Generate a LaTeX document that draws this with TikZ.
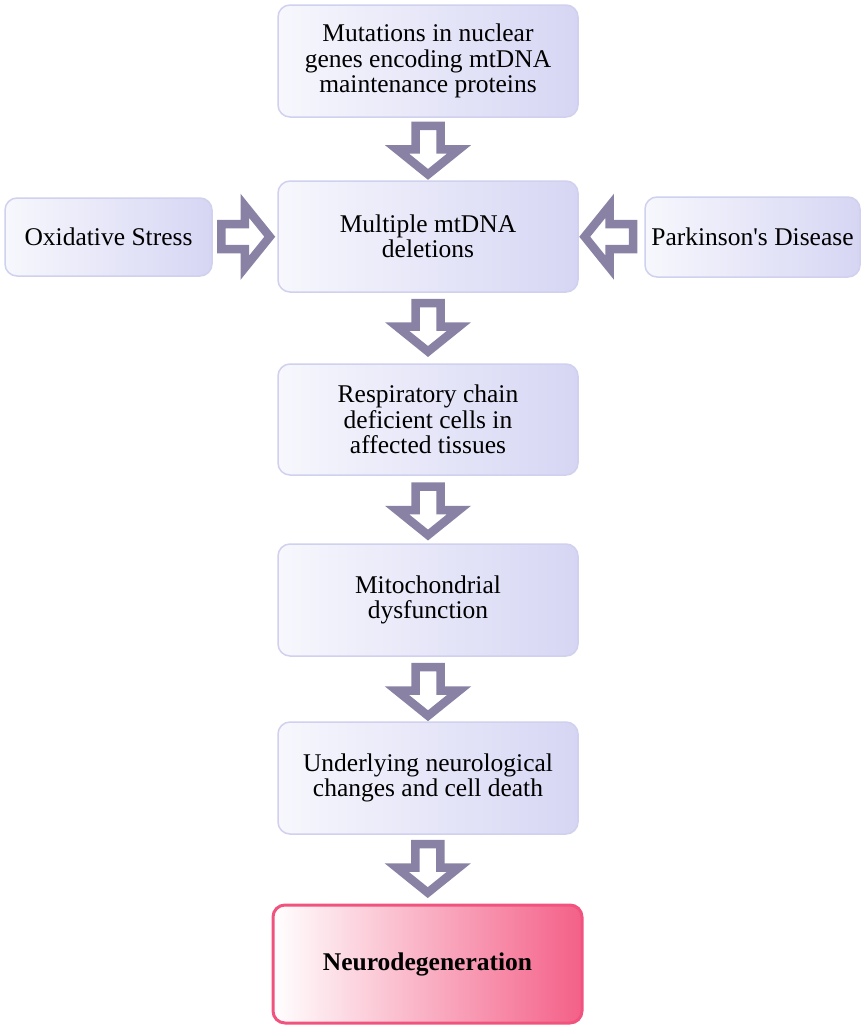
\documentclass[tikz,border=0pt]{standalone}
\usepackage{fontspec}
\setmainfont{Liberation Serif}
\usetikzlibrary{calc}

\definecolor{boxlight}{RGB}{247,247,253}
\definecolor{boxdark}{RGB}{214,214,244}
\definecolor{boxedge}{RGB}{208,208,239}
\definecolor{pinkdark}{RGB}{244,96,136}
\definecolor{pinkedge}{RGB}{240,84,126}
\definecolor{arrowgrey}{RGB}{138,130,165}

\tikzset{every picture/.style={line width=0.75pt}}
\tikzset{
  stepbox/.style={rounded corners=12pt, inner sep=0pt, align=center,
    left color=boxlight, right color=boxdark, draw=boxedge, line width=1.5pt,
    font=\fontsize{25.5}{25.5}\selectfont},
  endbox/.style={stepbox, left color=white, right color=pinkdark, draw=pinkedge,
    line width=3pt, font=\fontsize{25.5}{25.5}\selectfont\bfseries},
  hollow arrow/.pic={
    \draw[arrowgrey, fill=white, line width=8.5pt, miter limit=10]
      (-25,-12.5) -- (-1.5,-12.5) -- (-1.5,-31) -- (23.5,0) -- (-1.5,31)
      -- (-1.5,12.5) -- (-25,12.5) -- cycle;
  }
}

\begin{document}
\begin{tikzpicture}[x=1pt,y=1pt,yscale=-1,xscale=1]
\useasboundingbox (0,0) rectangle (866,1026);
% Boxes
\node[stepbox, minimum width=300pt, minimum height=112pt] (mut) at (428,61) {Mutations in nuclear\\genes encoding mtDNA\\maintenance proteins};
\node[stepbox, minimum width=300pt, minimum height=111pt] (del) at (428,236.5) {Multiple mtDNA\\deletions};
\node[stepbox, minimum width=207pt, minimum height=78pt] (ox) at (108.5,237) {Oxidative Stress};
\node[stepbox, minimum width=215pt, minimum height=80pt] (pd) at (752.5,237) {Parkinson\textquotesingle s Disease};
\node[stepbox, minimum width=300pt, minimum height=111pt] (resp) at (428,419.5) {Respiratory chain\\deficient cells in\\affected tissues};
\node[stepbox, minimum width=300pt, minimum height=112pt] (mito) at (428,600) {Mitochondrial\\dysfunction};
\node[stepbox, minimum width=300pt, minimum height=112pt] (neuro) at (428,778) {Underlying neurological\\changes and cell death};
\node[endbox, minimum width=309pt, minimum height=118pt] (degen) at (427.5,964) {Neurodegeneration};
% Block arrows
\pic[rotate=-90] at ($(mut.south)!0.53!(del.north)$) {hollow arrow};
\pic[rotate=-90] at ($(del.south)!0.5!(resp.north)$) {hollow arrow};
\pic[rotate=-90] at ($(resp.south)!0.53!(mito.north)$) {hollow arrow};
\pic[rotate=-90] at ($(mito.south)!0.55!(neuro.north)$) {hollow arrow};
\pic[rotate=-90] at ($(neuro.south)!0.5!(degen.north)$) {hollow arrow};
\pic at ($(ox.east)!0.52!(del.west)$) {hollow arrow};
\pic[rotate=180] at ($(del.east)!0.45!(pd.west)$) {hollow arrow};
\end{tikzpicture}
\end{document}
